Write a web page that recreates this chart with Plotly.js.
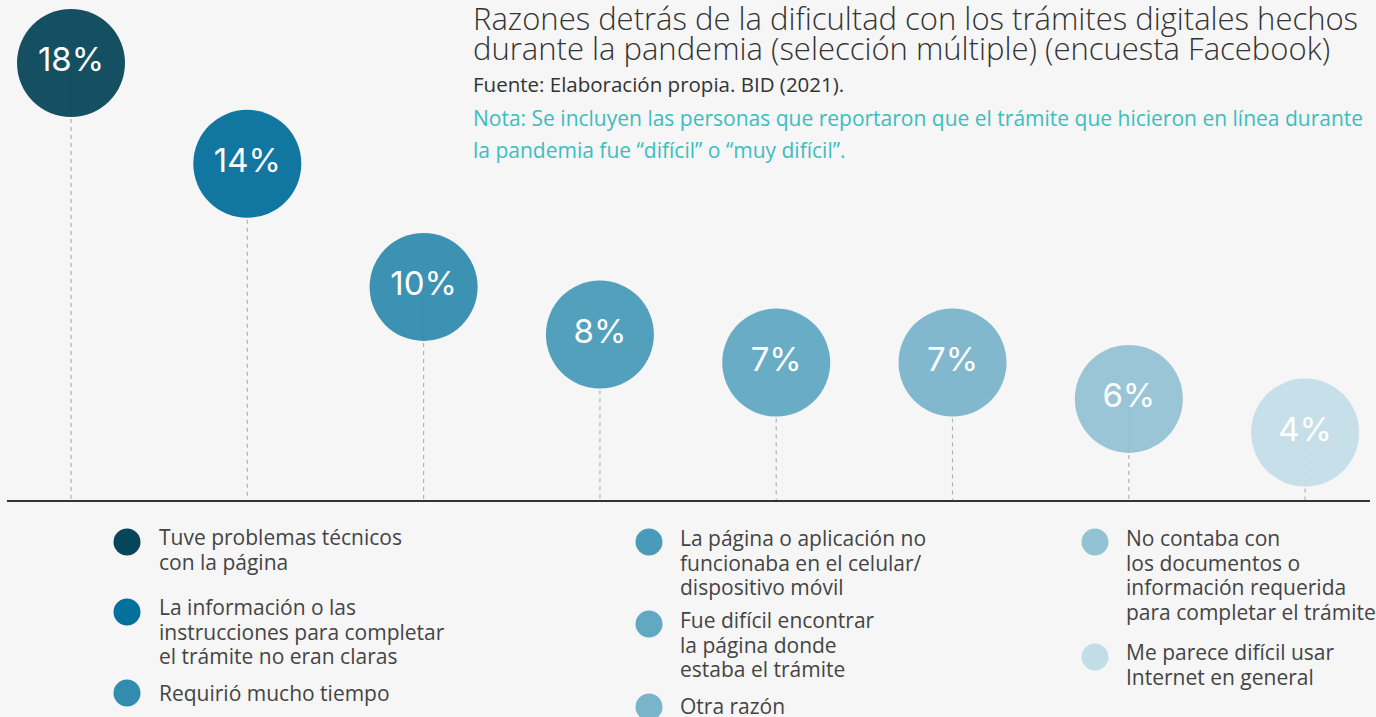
<!DOCTYPE html>
<html>
<head>
<meta charset="utf-8">
<script src="https://cdn.plot.ly/plotly-3.0.1.min.js"></script>
<style>
  html, body { margin: 0; padding: 0; background: #f6f6f6; }
  #chart { width: 1376px; height: 717px; }
</style>
</head>
<body>
<div id="chart"></div>
<script>
// ---- data ----
var categories = [
  "Tuve problemas técnicos<br>con la página",
  "La información o las<br>instrucciones para completar<br>el trámite no eran claras",
  "Requirió mucho tiempo",
  "La página o aplicación no<br>funcionaba en el celular/<br>dispositivo móvil",
  "Fue difícil encontrar<br>la página donde<br>estaba el trámite",
  "Otra razón",
  "No contaba con<br>los documentos o<br>información requerida<br>para completar el trámite",
  "Me parece difícil usar<br>Internet en general"
];
var values = [17.6, 14.0, 9.6, 7.9, 6.9, 6.9, 5.6, 4.4];
var valueLabels = ["18%", "14%", "10%", "8%", "7%", "7%", "6%", "4%"];
var colors = ["#07465a", "#05709b", "#318cae", "#4a9bb9", "#61a8c3", "#7ab4ca", "#93c2d5", "#c3dde7"];

// ---- layout constants ----
var W = 1376, H = 717;
var mL = 7, mR = 6, mT = 0, mB = 217;
var plotW = W - mL - mR, plotH = H - mT - mB;
var yMin = 1.99, yMax = 19.85;
function px2x(px) { return (px - mL) / plotW; }
function py2y(py) { return (mT + plotH - py) / plotH; }

var xIdx = categories.map(function (c, i) { return i; });

// dashed stems
var stemX = [], stemY = [];
values.forEach(function (v, i) {
  stemX.push(i, i, null);
  stemY.push(v, yMin, null);
});

var traces = [
  {
    type: "scatter", mode: "lines", x: stemX, y: stemY,
    line: { color: "#b3b3b3", width: 1.2, dash: "4px,4px" },
    hoverinfo: "skip", showlegend: false
  },
  {
    type: "scatter", mode: "markers+text", x: xIdx, y: values,
    text: valueLabels, textposition: "middle center",
    textfont: { family: "Inter, Lato, sans-serif", size: 33, color: "#ffffff" },
    marker: { size: 108, color: colors, opacity: 0.95, line: { width: 0 } },
    customdata: categories,
    hovertemplate: "%{customdata}<br>%{text}<extra></extra>",
    showlegend: false
  }
];

// legend placement (pixels)
var legCol = [0, 0, 0, 1, 1, 1, 2, 2];
var legColCircleX = [127, 649, 1095];
var legColTextX = [157, 678, 1124];
var legFirstLineY = [537, 607, 693, 538, 620, 706, 538, 652];
var legCircleY = [542, 612, 693, 542, 624, 707, 542, 657];
var legFont = 21, legLineH = 24.6;

var shapes = [], annotations = [];
categories.forEach(function (c, i) {
  var col = legCol[i];
  shapes.push({
    type: "circle", xref: "paper", yref: "paper",
    xsizemode: "pixel", ysizemode: "pixel",
    xanchor: px2x(legColCircleX[col]), yanchor: py2y(legCircleY[i]),
    x0: -13.5, x1: 13.5, y0: -13.5, y1: 13.5,
    fillcolor: colors[i], line: { width: 0 }
  });
  c.split("<br>").forEach(function (line, k) {
    annotations.push({
      xref: "paper", yref: "paper",
      x: px2x(legColTextX[col]), y: py2y(legFirstLineY[i] + k * legLineH),
      xanchor: "left", yanchor: "middle", align: "left", showarrow: false,
      text: line, font: { family: "Open Sans, sans-serif", size: legFont, color: "#444444" }
    });
  });
});

// titles
var titleLines = [
  "Razones detrás de la dificultad con los trámites digitales hechos",
  "durante la pandemia (selección múltiple) (encuesta Facebook)"
];
var titleY = [18, 48];
titleLines.forEach(function (t, i) {
  annotations.push({
    xref: "paper", yref: "paper", x: px2x(471), y: py2y(titleY[i]),
    xanchor: "left", yanchor: "middle", showarrow: false, text: t,
    font: { family: "Open Sans, sans-serif", size: 31, weight: 300, color: "#333333" }
  });
});
annotations.push({
  xref: "paper", yref: "paper", x: px2x(471), y: py2y(84),
  xanchor: "left", yanchor: "middle", showarrow: false,
  text: "Fuente: Elaboración propia. BID (2021).",
  font: { family: "Open Sans, sans-serif", size: 20.5, color: "#333333" }
});
var noteLines = [
  "Nota: Se incluyen las personas que reportaron que el trámite que hicieron en línea durante",
  "la pandemia fue “difícil” o “muy difícil”."
];
var noteY = [118, 150];
noteLines.forEach(function (t, i) {
  annotations.push({
    xref: "paper", yref: "paper", x: px2x(471), y: py2y(noteY[i]),
    xanchor: "left", yanchor: "middle", showarrow: false, text: t,
    font: { family: "Open Sans, sans-serif", size: 21, color: "#3dbdbf" }
  });
});

var layout = {
  width: W, height: H,
  margin: { l: mL, r: mR, t: mT, b: mB, pad: 0 },
  paper_bgcolor: "#f6f6f6", plot_bgcolor: "#f6f6f6",
  showlegend: false,
  xaxis: {
    range: [-0.363, 7.368], showgrid: false, zeroline: false,
    showticklabels: false, ticks: "", showline: true,
    linecolor: "#333333", linewidth: 2, fixedrange: true
  },
  yaxis: {
    range: [yMin, yMax], showgrid: false, zeroline: false,
    showticklabels: false, ticks: "", showline: false, fixedrange: true
  },
  shapes: shapes,
  annotations: annotations
};

Plotly.newPlot("chart", traces, layout, { displayModeBar: false, staticPlot: false });
</script>
</body>
</html>
